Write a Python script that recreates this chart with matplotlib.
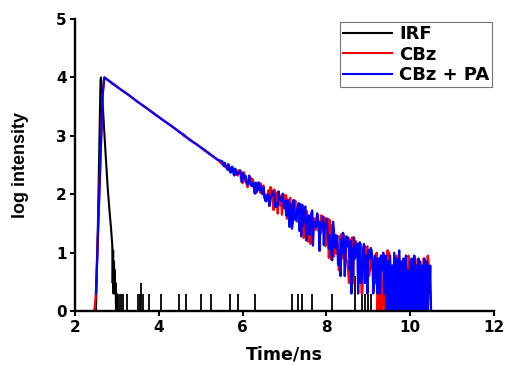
import numpy as np
import matplotlib
matplotlib.use("Agg")
import matplotlib.pyplot as plt

plt.rcParams['font.family'] = ['DejaVu Sans']
plt.rcParams['font.weight'] = 'bold'

nan = np.nan

# rising edge + smooth part of the decays (log10 counts)
head_t = [2.46, 2.50, 2.54, 2.58, 2.62, 2.66, 2.70, 2.74, 2.90, 3.10, 3.30, 3.50, 3.70,
          3.90, 4.10, 4.30, 4.50, 4.60, 4.70, 4.80, 4.90, 5.00, 5.10, 5.20, 5.30, 5.40]
cbz_head = [0.00, 0.30, 1.15, 2.00, 2.85, 3.70, 4.00, 3.98, 3.90, 3.79, 3.69, 3.58, 3.48,
            3.38, 3.27, 3.17, 3.07, 3.00, 2.96, 2.91, 2.85, 2.81, 2.74, 2.71, 2.64, 2.60]
pa_head = [nan, 0.30, 1.15, 2.00, 2.85, 3.70, 4.00, 3.98, 3.89, 3.79, 3.69, 3.58, 3.48,
           3.37, 3.27, 3.17, 3.06, 3.02, 2.95, 2.90, 2.86, 2.80, 2.76, 2.69, 2.65, 2.59]

# noisy tail, one value per 0.02 ns channel from 5.50 ns to 10.50 ns
tail_start, channel = 5.50, 0.02
cbz_tail = [
    2.52, 2.53, 2.52, 2.48, 2.47, 2.49, 2.49, 2.44, 2.52, 2.41, 2.41, 2.41, 2.45, 2.42, 2.41, 2.42,
    2.36, 2.33, 2.37, 2.32, 2.41, 2.38, 2.41, 2.28, 2.35, 2.19, 2.38, 2.37, 2.22, 2.26, 2.18, 2.12,
    2.18, 2.19, 2.29, 2.28, 2.16, 2.26, 2.20, 2.02, 2.06, 2.02, 2.16, 2.15, 2.08, 2.20, 2.03, 2.18,
    2.01, 2.13, 2.15, 1.94, 1.96, 1.99, 1.90, 1.89, 2.07, 1.80, 2.12, 2.12, 1.95, 1.98, 1.73, 2.08,
    1.79, 2.03, 2.02, 1.67, 2.00, 1.95, 1.81, 1.98, 1.65, 1.82, 2.00, 1.85, 1.89, 1.98, 1.58, 1.81,
    1.80, 1.85, 1.94, 1.48, 1.60, 1.86, 1.90, 1.79, 1.89, 1.67, 1.54, 1.53, 1.75, 1.74, 1.62, 1.66,
    1.34, 1.81, 1.25, 1.51, 1.56, 1.72, 1.71, 1.19, 1.32, 1.63, 1.15, 1.36, 1.72, 1.19, 1.59, 1.58,
    1.39, 1.50, 1.67, 1.48, 1.35, 1.53, 1.33, 1.64, 1.38, 1.50, 1.61, 1.20, 1.11, 1.47, 1.18, 1.58,
    0.91, 1.56, 1.42, 0.88, 1.47, 1.40, 0.93, 1.09, 1.30, 0.98, 1.14, 1.14, 0.70, 1.28, 1.23, 1.32,
    0.90, 1.08, 1.30, 1.20, 1.18, 0.85, 0.85, 0.70, 0.48, 0.48, 1.23, 1.18, 1.26, 0.48, 1.26, 0.90,
    1.20, 1.18, 1.08, 1.15, 0.70, 1.00, 1.15, 0.30, 0.30, 0.78, 0.78, 1.11, 0.85, 1.08, 1.11, 0.90,
    0.60, 0.70, 0.90, 0.85, 0.70, 0.70, 0.78, 0.48, 0.48, 1.00, 0.00, 0.30, 0.00, 0.00, 0.95, 0.00,
    0.00, 0.48, 0.90, 0.00, 0.00, 0.30, 1.04, 0.90, 1.00, 0.48, 0.30, 0.78, 0.00, 0.00, 0.60, 0.00,
    0.95, 0.48, 0.00, 0.95, 0.95, 0.60, 0.78, 0.78, 0.70, 0.30, 0.00, 0.48, 0.48, 0.00, 0.00, 0.95,
    0.90, 0.00, 0.00, 0.00, 0.30, 0.30, 0.00, 0.90, 0.70, 0.78, 0.70, 0.00, 0.48, 0.30, 0.78, 0.48,
    0.00, 0.90, 0.90, 0.30, 0.30, 0.48, 0.95, 0.85, 0.48, 0.30, 0.00]
pa_tail = [
    2.57, 2.56, 2.49, 2.50, 2.54, 2.47, 2.45, 2.42, 2.51, 2.46, 2.39, 2.37, 2.47, 2.47, 2.36, 2.32,
    2.44, 2.42, 2.35, 2.36, 2.35, 2.36, 2.41, 2.38, 2.21, 2.36, 2.27, 2.33, 2.27, 2.31, 2.18, 2.17,
    2.18, 2.32, 2.21, 2.15, 2.14, 2.18, 2.20, 2.07, 2.01, 2.20, 2.04, 2.09, 2.20, 2.07, 2.16, 2.11,
    2.04, 2.00, 2.12, 2.01, 1.89, 1.88, 1.94, 2.00, 1.99, 1.80, 1.86, 1.96, 1.99, 2.06, 1.97, 2.00,
    1.79, 1.78, 1.85, 1.80, 2.05, 1.91, 1.94, 1.89, 1.92, 2.01, 1.81, 1.76, 1.89, 1.64, 1.63, 1.91,
    1.71, 1.44, 1.84, 1.73, 1.41, 1.52, 1.90, 1.69, 1.56, 1.55, 1.71, 1.81, 1.85, 1.37, 1.83, 1.28,
    1.82, 1.46, 1.58, 1.74, 1.79, 1.21, 1.54, 1.59, 1.64, 1.31, 1.44, 1.67, 1.72, 1.12, 1.53, 1.46,
    1.51, 1.44, 1.67, 1.61, 1.48, 1.03, 1.52, 1.45, 1.44, 1.62, 1.13, 1.48, 1.47, 1.59, 1.46, 1.25,
    1.07, 1.30, 1.22, 0.96, 0.87, 1.53, 1.39, 1.09, 1.30, 1.07, 1.29, 0.79, 1.04, 0.85, 0.60, 1.23,
    1.00, 1.34, 1.15, 0.60, 1.00, 1.28, 1.11, 1.26, 1.04, 0.70, 1.20, 0.30, 1.08, 0.60, 1.26, 0.90,
    0.95, 1.15, 1.04, 0.30, 1.11, 1.18, 0.48, 0.48, 0.78, 1.08, 1.15, 0.48, 0.60, 0.95, 0.30, 1.04,
    1.04, 0.90, 1.08, 1.04, 0.90, 0.30, 0.48, 0.95, 0.90, 0.60, 0.30, 0.90, 0.90, 0.30, 0.90, 0.95,
    0.70, 1.00, 0.30, 0.90, 0.95, 0.00, 0.85, 0.30, 0.00, 0.95, 0.60, 0.00, 0.78, 0.00, 1.00, 0.48,
    0.00, 0.90, 0.00, 0.70, 1.04, 0.00, 0.85, 0.30, 0.00, 0.90, 0.60, 0.00, 0.95, 0.00, 0.70, 0.30,
    0.00, 0.85, 0.00, 0.90, 0.48, 0.00, 0.95, 0.00, 0.78, 0.60, 0.00, 0.90, 0.00, 0.85, 0.30, 0.00,
    0.78, 0.00, 0.90, 0.48, 0.00, 0.85, 0.00, 0.78, 0.30, 0.78, 0.00]

# instrument response
irf_t = [2.46, 2.50, 2.54, 2.58, 2.61, 2.62, 2.66, 2.70, 2.74, 2.78, 2.82, 2.86, 2.89,
         2.90, 2.91, 2.92, 2.93, 2.94, 2.95, 2.96, 2.97, 2.98, 2.99, 3.00, 10.50]
irf_log = [0.00, 0.00, 1.20, 2.80, 3.95, 4.00, 3.55, 3.06, 2.58, 2.12, 1.75, 1.42, 1.13,
           0.48, 1.04, 0.30, 0.85, 0.60, 0.70, 0.30, 0.48, 0.00, 0.30, 0.00, 0.00]
spike_t = [3.05, 3.09, 3.15, 3.23, 3.51, 3.55, 3.58, 3.63, 3.76, 4.05, 4.48, 4.64, 5.02,
           5.24, 5.69, 5.89, 6.30, 7.17, 7.32, 7.43, 7.66, 8.13, 8.69, 8.84, 8.93, 9.00, 9.07]
spike_h = [0.30, 0.30, 0.30, 0.30, 0.30, 0.30, 0.48, 0.30, 0.30, 0.30, 0.30, 0.30, 0.30,
           0.30, 0.30, 0.30, 0.30, 0.30, 0.30, 0.30, 0.30, 0.30, 0.60, 0.30, 0.30, 0.30, 0.30]

tail_t = tail_start + channel * np.arange(len(cbz_tail))
t = np.concatenate([head_t, tail_t])
cbz = np.concatenate([cbz_head, cbz_tail])
cbz_pa = np.concatenate([pa_head, pa_tail])

fig = plt.figure(figsize=(5.05, 3.66), dpi=100)
ax = fig.add_axes([0.1485, 0.150, 0.8295, 0.798])

ax.vlines(spike_t, 0, spike_h, color='black', lw=1.3)
ax.plot(irf_t, irf_log, color='black', lw=1.5, label='IRF')
ax.plot(t, cbz, color='#ff0000', lw=1.6, label='CBz')
ax.plot(t, cbz_pa, color='#0000ff', lw=1.6, label='CBz + PA')

ax.set_xlim(2, 12)
ax.set_ylim(0, 5)
ax.set_xticks([2, 4, 6, 8, 10, 12])
ax.set_yticks([0, 1, 2, 3, 4, 5])
ax.set_xticklabels(['2', '4', '6', '8', '10', '12'], fontsize=11, fontweight='bold')
ax.set_yticklabels(['0', '1', '2', '3', '4', '5'], fontsize=11, fontweight='bold')
ax.spines['top'].set_visible(False)
ax.spines['right'].set_visible(False)
for s in ('left', 'bottom'):
    ax.spines[s].set_linewidth(1.7)
ax.tick_params(direction='out', length=3.6, width=1.4, pad=2.5)

ax.set_xlabel('Time/ns', fontsize=12.5, fontweight='bold', labelpad=8)
ax.set_ylabel('log intensity', fontsize=13, fontweight='bold', family='Liberation Sans',
              labelpad=19)

leg = ax.legend(loc='upper right', bbox_to_anchor=(1.0, 0.995), fancybox=False,
                edgecolor='0.45', framealpha=1, handlelength=2.7, handletextpad=0.4,
                labelspacing=0.15, borderpad=0.15, borderaxespad=0.1,
                prop={'weight': 'bold', 'size': 13})
leg.get_frame().set_linewidth(0.8)
for ln in leg.get_lines():
    ln.set_linewidth(1.5)

fig.savefig('out.png', dpi=100)
